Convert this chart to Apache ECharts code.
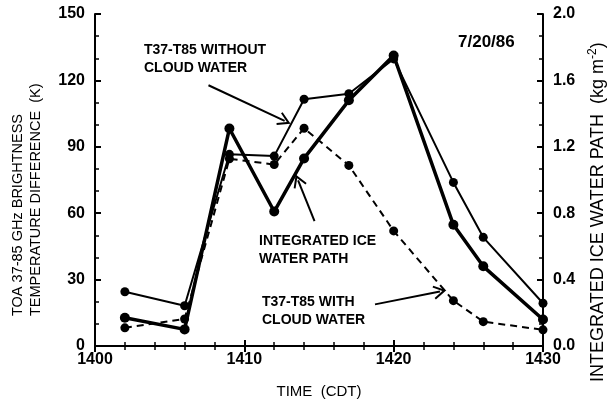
<!DOCTYPE html>
<html><head><meta charset="utf-8">
<script src="https://cdn.jsdelivr.net/npm/echarts@6/dist/echarts.min.js"></script>
<style>html,body{margin:0;padding:0;background:#fff}#c{width:611px;height:404px}</style>
</head><body><div id="c"></div>
<script>
var times = [1402, 1406, 1409, 1412, 1414, 1417, 1420, 1424, 1426, 1430];
var withoutCloud = [24.5, 18.2, 86.6, 85.8, 111.5, 114, 129.7, 73.9, 49.1, 19.3];
var withCloud = [8.2, 12.2, 84.6, 82, 98.4, 81.6, 52, 20.5, 11, 7.3];
var iceWaterPath = [0.17, 0.10, 1.31, 0.81, 1.13, 1.48, 1.75, 0.73, 0.48, 0.16];
var arrows = [
  [[1407.6, 117.8], [1412.7, 101.7]],
  [[1414.7, 56.4], [1413.6, 74.8]],
  [[1418.75, 18.8], [1423.1, 24.6]]
];

function pairs(xs, ys) { return xs.map(function (x, i) { return [x, ys[i]]; }); }
var F = 'Liberation Sans, Arial, Helvetica, sans-serif';
var txt = { fontFamily: F, fontSize: 16, color: '#000', fontWeight: 'bold' };
var chevron = 'path://M0,10 L5,0 L10,10 L8.8,10.8 L5,3.4 L1.2,10.8 Z';

var chart = echarts.init(document.getElementById('c'), null, { renderer: 'canvas' });
chart.setOption({
  animation: false,
  backgroundColor: '#fff',
  grid: { left: 95, right: 68, top: 14, bottom: 55 },
  xAxis: [{
    type: 'value', min: 1400, max: 1430, interval: 10,
    name: 'TIME  (CDT)', nameLocation: 'middle', nameGap: 38,
    nameTextStyle: { fontFamily: F, fontSize: 15, color: '#000' },
    axisLine: { lineStyle: { color: '#000', width: 2 } },
    axisTick: { inside: true, length: 6, lineStyle: { color: '#000', width: 2 } },
    minorTick: { show: true, splitNumber: 5, length: 4, lineStyle: { color: '#000', width: 1.5 } },
    axisLabel: Object.assign({ margin: 6, formatter: function (v) { return String(v); } }, txt),
    splitLine: { show: false }
  }, {
    type: 'value', min: 1400, max: 1430, interval: 10, position: 'top',
    axisLine: { lineStyle: { color: '#000', width: 2 } },
    axisTick: { inside: true, length: 6, lineStyle: { color: '#000', width: 2 } },
    minorTick: { show: true, splitNumber: 5, length: 4, lineStyle: { color: '#000', width: 1.5 } },
    axisLabel: { show: false },
    splitLine: { show: false }
  }],
  yAxis: [{
    type: 'value', min: 0, max: 150, interval: 30,
    axisLine: { show: true, lineStyle: { color: '#000', width: 2 } },
    axisTick: { show: true, inside: true, length: 6, lineStyle: { color: '#000', width: 2 } },
    minorTick: { show: true, splitNumber: 3, length: 4, lineStyle: { color: '#000', width: 1.5 } },
    axisLabel: Object.assign({ margin: 10 }, txt),
    splitLine: { show: false }
  }, {
    type: 'value', min: 0, max: 2, interval: 0.4, position: 'right',
    axisLine: { show: true, lineStyle: { color: '#000', width: 2 } },
    axisTick: { show: true, inside: true, length: 6, lineStyle: { color: '#000', width: 2 } },
    minorTick: { show: true, splitNumber: 3, length: 4, lineStyle: { color: '#000', width: 1.5 } },
    axisLabel: Object.assign({ margin: 10, formatter: function (v) { return v.toFixed(1); } }, txt),
    splitLine: { show: false }
  }],
  series: [{
    name: 'T37-T85 WITHOUT CLOUD WATER', type: 'line', yAxisIndex: 0,
    data: pairs(times, withoutCloud),
    symbol: 'circle', symbolSize: 9,
    itemStyle: { color: '#000' }, lineStyle: { color: '#000', width: 2 },
    markLine: {
      silent: true, symbol: ['none', chevron], symbolSize: [14, 13],
      label: { show: false },
      lineStyle: { color: '#000', width: 2, type: 'solid' },
      data: arrows.map(function (a) { return [{ coord: a[0] }, { coord: a[1] }]; })
    }
  }, {
    name: 'T37-T85 WITH CLOUD WATER', type: 'line', yAxisIndex: 0,
    data: pairs(times, withCloud),
    symbol: 'circle', symbolSize: 9,
    itemStyle: { color: '#000' }, lineStyle: { color: '#000', width: 2, type: [7, 5] }
  }, {
    name: 'INTEGRATED ICE WATER PATH', type: 'line', yAxisIndex: 1,
    data: pairs(times, iceWaterPath),
    symbol: 'circle', symbolSize: 10,
    itemStyle: { color: '#000' }, lineStyle: { color: '#000', width: 3.5 }
  }],
  graphic: [
    { type: 'text', x: 27, y: 316, rotation: Math.PI / 2,
      style: { text: 'TOA 37-85 GHz BRIGHTNESS\nTEMPERATURE DIFFERENCE  (K)', font: '14.5px ' + F, fill: '#000',
        lineHeight: 18, textAlign: 'left', textVerticalAlign: 'middle' } },
    { type: 'text', x: 598, y: 382, rotation: Math.PI / 2,
      style: { text: 'INTEGRATED ICE WATER PATH  (kg m{sup|-2})', font: '18px ' + F, fill: '#000',
        textAlign: 'left', textVerticalAlign: 'middle',
        rich: { sup: { font: '12px ' + F, fill: '#000', padding: [0, 0, 10, 0] } } } },
    { type: 'text', left: 144, top: 41, style: { text: 'T37-T85 WITHOUT\nCLOUD WATER', font: 'bold 14px ' + F, fill: '#000', lineHeight: 18 } },
    { type: 'text', left: 458, top: 34, style: { text: '7/20/86', font: 'bold 17px ' + F, fill: '#000' } },
    { type: 'text', left: 259, top: 232, style: { text: 'INTEGRATED ICE\nWATER PATH', font: 'bold 14px ' + F, fill: '#000', lineHeight: 18 } },
    { type: 'text', left: 262, top: 293, style: { text: 'T37-T85 WITH\nCLOUD WATER', font: 'bold 14px ' + F, fill: '#000', lineHeight: 18 } }
  ]
});
</script></body></html>
